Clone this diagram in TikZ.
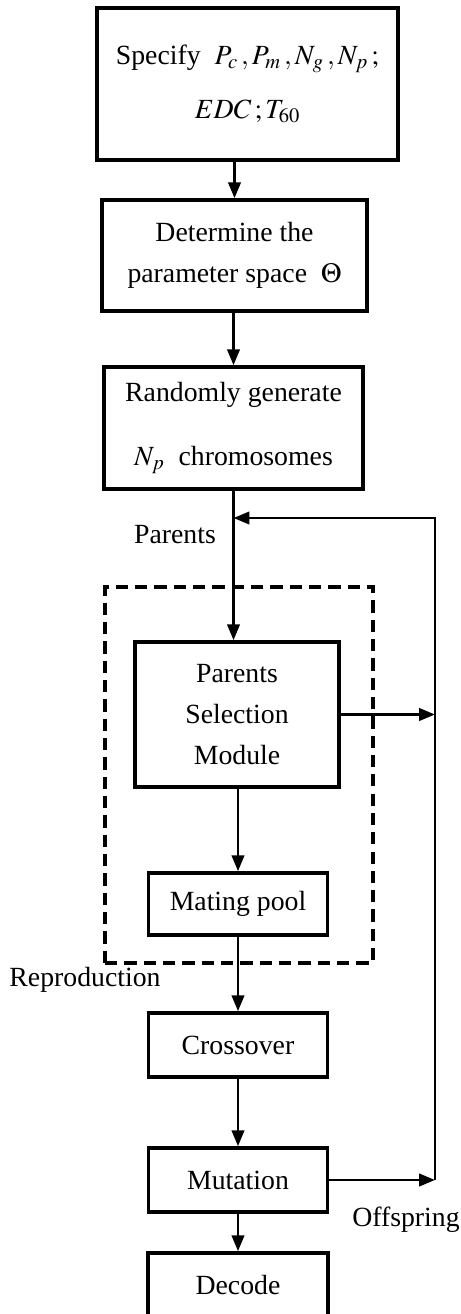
\documentclass[tikz,border=0pt]{standalone}
\usepackage{mathptmx}
\usepackage[no-math]{fontspec}
\setmainfont{Liberation Serif}
\usetikzlibrary{arrows.meta,positioning}

\tikzset{
  box/.style={draw, line width=2pt, align=center, inner sep=0pt},
  flow/.style={line width=1.6pt, -{Triangle[length=9pt,width=7pt]}},
  grp/.style={draw, line width=1.9pt, dash pattern=on 7pt off 4pt, inner sep=0pt},
  lbl/.style={inner sep=0pt}
}

\begin{document}
\begin{tikzpicture}[x=0.02cm, y=-0.02cm, font=\fontsize{15.8}{23.5}\selectfont]
  \def\px{0.02cm}
  \useasboundingbox (0,0) rectangle (460,1314);

%setup
  \node[box, minimum width=301*\px, minimum height=152*\px] (spec) at (247.5,84)
     {Specify\ \ $P_{c}\,{,}\,P_{m}\,{,}\,N_{g}\,{,}\,N_{p}\,;$\\[7pt] $EDC\,; T_{60}$};
  \node[box, minimum width=265*\px, minimum height=111*\px] (det) at (234.5,255.5)
     {Determine the\\ parameter space\ \ $\Theta$};
  \node[box, minimum width=259*\px, minimum height=122*\px] (rand) at (233.5,428)
     {Randomly generate\\[13pt] $N_p$\ \ chromosomes};

%reproduction
  \node[grp, minimum width=268*\px, minimum height=376*\px] (repro) at (239,775) {};
  \node[box, minimum width=204*\px, minimum height=145*\px] (psm) at (237,714.5)
     {Parents\\ Selection\\ Module};
  \node[box, minimum width=179*\px, minimum height=62*\px] (pool) at (238,904) {Mating pool};

%GA operators
  \node[box, minimum width=179*\px, minimum height=64*\px] (cross) at (238,1045) {Crossover};
  \node[box, minimum width=179*\px, minimum height=64*\px] (mut) at (238,1180) {Mutation};
  \node[box, minimum width=180*\px, minimum height=64*\px] (dec) at (238,1285) {Decode};

%labels
  \node[lbl] (lpar) at (175,535) {Parents};
  \node[lbl] (lrep) at (85,980) {Reproduction};
  \node[lbl] (loff) at (406,1220) {Offspring};

%feedback line
  \coordinate (back) at (435,518);
  \coordinate (s1) at (back |- psm.east);
  \coordinate (s2) at (back |- mut.east);

%arrows
  \foreach \a/\b in {spec/det, det/rand, psm/pool, pool/cross, cross/mut, mut/dec} {
    \draw[flow] (\b.north |- \a.south) -- (\b.north);
  }
  \draw[flow] (rand.south) -- (rand.south |- psm.north);
  \draw[flow] (psm.east) -- (s1);
  \draw[flow] (mut.east) -- (s2);
  \draw[flow] (s2) -- (back) -- (back -| rand.south);

\end{tikzpicture}
\end{document}
